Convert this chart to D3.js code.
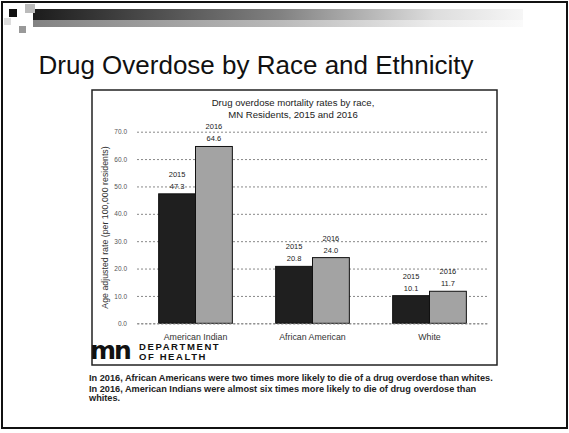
<!DOCTYPE html>
<html>
<head>
<meta charset="utf-8">
<script src="https://cdn.jsdelivr.net/npm/d3@7"></script>
<style>
  body { margin: 0; background: #fff; }
  svg { display: block; }
</style>
</head>
<body>
<div id="slide"></div>
<script>
// data
const categories = ["American Indian", "African American", "White"];
const years = ["2015", "2016"];
const rates2015 = [47.3, 20.8, 10.1];
const rates2016 = [64.6, 24.0, 11.7];
const yTicks = [0, 10, 20, 30, 40, 50, 60, 70];
const notes = [
  "In 2016, African Americans were two times more likely to die of a drug overdose than whites.",
  "In 2016, American Indians were almost six times more likely to die of drug overdose than",
  "whites."
];

const W = 569, H = 433;
const font = "'Liberation Sans', Arial, sans-serif";

var svg = d3.select("#slide").append("svg")
  .attr("width", W).attr("height", H);

svg.append("rect").attr("width", W).attr("height", H).attr("fill", "#fff");

// slide frame
svg.append("rect")
  .attr("x", 2).attr("y", 2).attr("width", 565).attr("height", 426)
  .attr("fill", "none").attr("stroke", "#111").attr("stroke-width", 2);

// header gradient band
var defs = svg.append("defs");
var grad = defs.append("linearGradient").attr("id", "hdr");
grad.append("stop").attr("offset", "0%").attr("stop-color", "#1c1c1c");
grad.append("stop").attr("offset", "50%").attr("stop-color", "#808080");
grad.append("stop").attr("offset", "82%").attr("stop-color", "#dddddd");
grad.append("stop").attr("offset", "100%").attr("stop-color", "#f6f6f6");
svg.append("rect").attr("x", 33).attr("y", 9).attr("width", 490).attr("height", 11).attr("fill", "url(#hdr)");
svg.append("rect").attr("x", 33).attr("y", 20).attr("width", 490).attr("height", 7).attr("fill", "url(#hdr)").attr("opacity", 0.55);
svg.append("rect").attr("x", 9).attr("y", 9).attr("width", 8).attr("height", 8).attr("fill", "#111");
svg.append("rect").attr("x", 25).attr("y", 4).attr("width", 10).attr("height", 9).attr("fill", "#bbb");
svg.append("rect").attr("x", 19).attr("y", 26).attr("width", 7).attr("height", 7).attr("fill", "#999");
svg.append("rect").attr("x", 4).attr("y", 18).attr("width", 7).attr("height", 7).attr("fill", "#ddd");

// slide title
svg.append("text")
  .attr("x", 256).attr("y", 74)
  .attr("text-anchor", "middle")
  .style("font-family", font).style("font-size", "26px").attr("fill", "#111")
  .text("Drug Overdose by Race and Ethnicity");

// chart box
svg.append("rect")
  .attr("x", 92).attr("y", 90).attr("width", 405).attr("height", 275)
  .attr("fill", "#fff").attr("stroke", "#222").attr("stroke-width", 1.5);

// chart title
var ct = svg.append("text")
  .attr("text-anchor", "middle")
  .style("font-family", font).style("font-size", "9.6px").attr("fill", "#222");
ct.append("tspan").attr("x", 293).attr("y", 106).text("Drug overdose mortality rates by race,");
ct.append("tspan").attr("x", 293).attr("y", 118).text("MN Residents, 2015 and 2016");

// scales
var x0 = d3.scaleBand().domain(categories).range([137, 488])
  .paddingInner(0.37).paddingOuter(0.185);
var x1 = d3.scaleBand().domain(years).range([0, x0.bandwidth()]);
var y = d3.scaleLinear().domain([0, 70]).range([323.3, 131.7]);

// gridlines + y axis
var yAxis = d3.axisLeft(y).tickValues(yTicks).tickFormat(d3.format(".1f"))
  .tickSize(-(488 - 137)).tickPadding(10);
var gY = svg.append("g").attr("transform", "translate(137,0)").call(yAxis);
gY.select(".domain").remove();
gY.selectAll(".tick line").attr("stroke", "#888").attr("stroke-dasharray", "2,2");
gY.selectAll(".tick text").style("font-family", font).style("font-size", "6.5px").attr("fill", "#555");

// y axis title
svg.append("text")
  .attr("transform", "translate(108," + y(35) + ") rotate(-90)")
  .attr("text-anchor", "middle")
  .style("font-family", font).style("font-size", "8.8px").attr("fill", "#333")
  .text("Age adjusted rate (per 100,000 residents)");

// bars
var rows = categories.map(function(c, i) {
  return {cat: c, vals: [
    {year: years[0], v: rates2015[i]},
    {year: years[1], v: rates2016[i]}
  ]};
});
var fills = {"2015": "#1f1f1f", "2016": "#a3a3a3"};

var groups = svg.selectAll("g.cat").data(rows).enter().append("g")
  .attr("class", "cat")
  .attr("transform", function(d) { return "translate(" + x0(d.cat) + ",0)"; });

groups.selectAll("rect").data(function(d) { return d.vals; }).enter().append("rect")
  .attr("x", function(d) { return x1(d.year); })
  .attr("y", function(d) { return y(d.v); })
  .attr("width", x1.bandwidth())
  .attr("height", function(d) { return y(0) - y(d.v); })
  .attr("fill", function(d) { return fills[d.year]; })
  .attr("stroke", "#111").attr("stroke-width", 1);

// bar labels: year over value
var lbl = groups.selectAll("text.val").data(function(d) { return d.vals; }).enter().append("text")
  .attr("class", "val")
  .attr("text-anchor", "middle")
  .style("font-family", font).style("font-size", "7.5px").attr("fill", "#222");
lbl.append("tspan")
  .attr("x", function(d) { return x1(d.year) + x1.bandwidth() / 2; })
  .attr("y", function(d) { return y(d.v) - 17; })
  .text(function(d) { return d.year; });
lbl.append("tspan")
  .attr("x", function(d) { return x1(d.year) + x1.bandwidth() / 2; })
  .attr("y", function(d) { return y(d.v) - 5; })
  .text(function(d) { return d.v.toFixed(1); });

// x axis
var xAxis = d3.axisBottom(x0).tickSize(0).tickPadding(10);
var gX = svg.append("g").attr("transform", "translate(0," + y(0) + ")").call(xAxis);
gX.select(".domain").attr("stroke", "#888").attr("stroke-dasharray", "2,2");
gX.selectAll(".tick text").style("font-family", font).style("font-size", "8.8px").attr("fill", "#333");

// MDH logo
svg.append("text")
  .attr("x", 90).attr("y", 359)
  .style("font-family", "'DejaVu Sans', sans-serif").style("font-weight", "bold")
  .style("font-size", "25px").style("letter-spacing", "-2px").attr("fill", "#111")
  .text("mn");
var logo = svg.append("text")
  .style("font-family", font).style("font-weight", "bold")
  .style("font-size", "9.5px").style("letter-spacing", "1.6px").attr("fill", "#111");
logo.append("tspan").attr("x", 139).attr("y", 349.5).text("DEPARTMENT");
logo.append("tspan").attr("x", 139).attr("y", 359.5).text("OF HEALTH");

// notes under chart
svg.selectAll("text.note").data(notes).enter().append("text")
  .attr("class", "note")
  .attr("x", 89)
  .attr("y", function(d, i) { return [381, 391.5, 401][i]; })
  .style("font-family", font).style("font-weight", "bold")
  .style("font-size", "9.2px").attr("fill", "#222")
  .text(function(d) { return d; });
</script>
</body>
</html>
